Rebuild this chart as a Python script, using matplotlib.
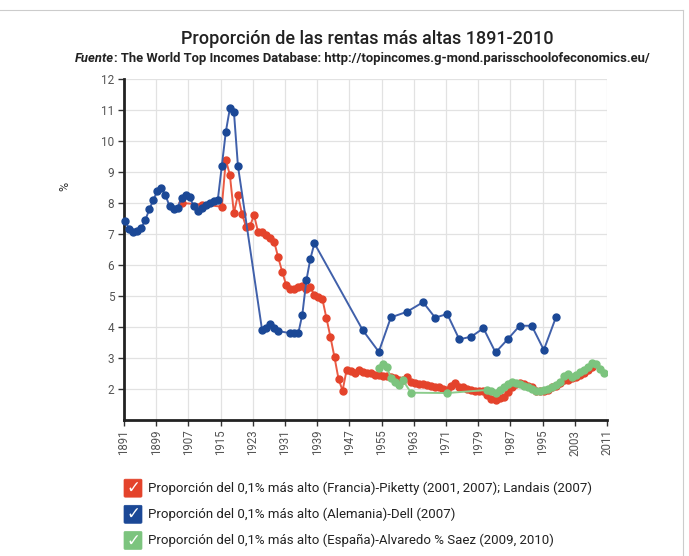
import matplotlib
matplotlib.use("Agg")
import matplotlib.pyplot as plt
from matplotlib.patches import FancyBboxPatch
from matplotlib.lines import Line2D
import numpy as np

plt.rcParams['font.family'] = ['Roboto', 'DejaVu Sans']

# ---------------- data ----------------
# France (Piketty; Landais)
fr_years = [1905, 1910, 1915, 1916, 1917, 1918, 1919, 1920, 1921, 1922, 1923, 1924,
            1925, 1926, 1927, 1928, 1929, 1930, 1931, 1932, 1933, 1934, 1935, 1936,
            1937, 1938, 1939, 1940, 1941, 1942, 1943, 1944, 1945, 1946, 1947, 1948,
            1949, 1950, 1951, 1952, 1953, 1954, 1955, 1956, 1957, 1958, 1959, 1960,
            1961, 1962, 1963, 1964, 1965, 1966, 1967, 1968, 1969, 1970, 1971, 1972,
            1973, 1974, 1975, 1976, 1977, 1978, 1979, 1980, 1981, 1982, 1983, 1984,
            1985, 1986, 1987, 1988, 1989, 1990, 1991, 1992, 1993, 1994, 1995, 1996,
            1997, 1998, 1999, 2000, 2001, 2002, 2003, 2004, 2005, 2006, 2007]
fr_values = [8.00, 7.95, 7.88, 9.39, 8.90, 7.67, 8.26, 7.65, 7.24, 7.25, 7.61, 7.07,
             7.05, 6.97, 6.86, 6.75, 6.25, 5.78, 5.35, 5.22, 5.22, 5.28, 5.32, 5.22,
             5.28, 5.03, 4.96, 4.89, 4.28, 3.67, 3.02, 2.32, 1.95, 2.61, 2.59, 2.51,
             2.62, 2.56, 2.52, 2.50, 2.45, 2.45, 2.43, 2.42, 2.38, 2.35, 2.30, 2.28,
             2.38, 2.22, 2.20, 2.17, 2.17, 2.13, 2.10, 2.05, 2.05, 2.00, 1.97, 2.10,
             2.20, 2.05, 2.05, 2.00, 1.97, 1.95, 1.95, 1.95, 1.80, 1.68, 1.65, 1.70,
             1.75, 1.90, 2.05, 2.15, 2.20, 2.15, 2.10, 2.05, 1.95, 1.92, 1.95, 1.98,
             2.05, 2.10, 2.20, 2.30, 2.30, 2.35, 2.40, 2.45, 2.50, 2.60, 2.70]

# Germany (Dell)
de_years = [1891, 1892, 1893, 1894, 1895, 1896, 1897, 1898, 1899, 1900, 1901, 1902,
            1903, 1904, 1905, 1906, 1907, 1908, 1909, 1910, 1911, 1912, 1913, 1914,
            1915, 1916, 1917, 1918, 1919, 1925, 1926, 1927, 1928, 1929, 1932, 1933,
            1934, 1935, 1936, 1937, 1938, 1950, 1954, 1957, 1961, 1965, 1968, 1971,
            1974, 1977, 1980, 1983, 1986, 1989, 1992, 1995, 1998]
de_values = [7.42, 7.15, 7.05, 7.10, 7.20, 7.45, 7.80, 8.10, 8.40, 8.47, 8.25, 7.90,
             7.80, 7.85, 8.15, 8.25, 8.20, 7.90, 7.75, 7.85, 7.95, 8.00, 8.05, 8.10,
             9.20, 10.30, 11.05, 10.95, 9.20, 3.90, 3.96, 4.10, 3.96, 3.87, 3.80, 3.80,
             3.80, 4.40, 5.50, 6.20, 6.70, 3.90, 3.20, 4.31, 4.49, 4.80, 4.30, 4.42,
             3.60, 3.69, 3.96, 3.18, 3.60, 4.04, 4.04, 3.26, 4.31]

# Spain (Alvaredo & Saez)
es_years = [1954, 1955, 1956, 1957, 1958, 1959, 1960, 1962, 1971, 1981, 1982, 1983,
            1984, 1985, 1986, 1987, 1988, 1989, 1990, 1991, 1992, 1993, 1994, 1995,
            1996, 1997, 1998, 1999, 2000, 2001, 2002, 2003, 2004, 2005, 2006, 2007,
            2008, 2009, 2010]
es_values = [2.67, 2.82, 2.72, 2.35, 2.22, 2.13, 2.28, 1.88, 1.87, 1.97, 1.92, 1.88,
             1.97, 2.07, 2.17, 2.22, 2.20, 2.15, 2.10, 2.05, 2.00, 1.95, 1.95, 1.97,
             2.00, 2.05, 2.12, 2.22, 2.42, 2.47, 2.40, 2.45, 2.55, 2.60, 2.72, 2.83,
             2.82, 2.65, 2.50]

series_labels = [
    "Proporción del 0,1% más alto (Francia)-Piketty (2001, 2007); Landais (2007)",
    "Proporción del 0,1% más alto (Alemania)-Dell (2007)",
    "Proporción del 0,1% más alto (España)-Alvaredo % Saez (2009, 2010)",
]
x_ticks = list(range(1891, 2012, 8))
y_ticks = list(range(2, 13))

title = "Proporción de las rentas más altas 1891-2010"
source = "The World Top Incomes Database: http://topincomes.g-mond.parisschoolofeconomics.eu/"

# ---------------- styling ----------------
red_m, red_l = "#e4432b", "#ea5a44"
blue_m, blue_l = "#1b4896", "#4060aa"
green_m, green_l = "#7cc47e", "#8ccc8c"
mid_year = 0.3  # points sit slightly inside each year

fig = plt.figure(figsize=(6.89, 5.56), dpi=100)
ax = fig.add_axes([0.180, 0.2446, 0.701, 0.6134])

ax.plot(np.array(fr_years) + mid_year, fr_values, color=red_l, lw=1.4, marker="o",
        ms=5.0, mfc=red_m, mec=red_m, zorder=3)
ax.plot(np.array(es_years) + mid_year, es_values, color=green_l, lw=1.4, marker="o",
        ms=5.0, mfc=green_m, mec=green_m, zorder=4)
ax.plot(np.array(de_years) + mid_year, de_values, color=blue_l, lw=1.4, marker="o",
        ms=5.0, mfc=blue_m, mec=blue_m, zorder=5, clip_on=False)

ax.set_xlim(1891, 2011)
ax.set_ylim(1, 12)
ax.set_xticks(x_ticks)
ax.set_xticklabels([str(t) for t in x_ticks], rotation=90, fontsize=8.3, color="#555555")
ax.set_yticks(y_ticks)
ax.set_yticklabels([str(t) for t in y_ticks], fontsize=8.5, color="#555555")
ax.tick_params(axis="both", direction="out", length=4, width=1, color="#333333", pad=3)
ax.grid(True, color="#e2e2e2", lw=0.9)
ax.set_axisbelow(True)
for s in ("top", "right"):
    ax.spines[s].set_visible(False)
for s in ("left", "bottom"):
    ax.spines[s].set_color("#222222")
    ax.spines[s].set_linewidth(2)

fig.text(0.094, 0.665, "%", rotation=90, fontsize=9, color="#333333", ha="center", va="center")

# titles
fig.text(0.533, 0.930, title, ha="center", va="center", fontsize=13, color="#222222",
         fontweight="medium")
t1 = fig.text(0.108, 0.895, "Fuente", ha="left", va="center", fontsize=9.4, color="#222222",
              fontweight="bold", fontstyle="italic")
fig.canvas.draw()
bb = t1.get_window_extent()
x_after = (bb.x1) / fig.bbox.width
fig.text(x_after, 0.895, ": " + source, ha="left", va="center", fontsize=9.4,
         color="#222222", fontweight="bold")

# legend (checkbox style)
leg_colors = [red_m, blue_m, green_m]
leg_y = [0.122, 0.075, 0.028]
for c, y, lab in zip(leg_colors, leg_y, series_labels):
    w, h = 18 / 689, 18 / 556
    fig.patches.append(FancyBboxPatch((124 / 689, y - h / 2), w, h,
                                      boxstyle="round,pad=0,rounding_size=0.002",
                                      transform=fig.transFigure, fc=c, ec=c, lw=0.5))
    fig.text(124 / 689 + w / 2, y, "\u2713", color="white", fontsize=12, ha="center",
             va="center", family=["DejaVu Sans"])
    fig.text(148 / 689, y, lab, fontsize=9.5, color="#222222", ha="left", va="center")

# thin frame
fig.add_artist(Line2D([0, 683 / 689], [1 - 10 / 556, 1 - 10 / 556], transform=fig.transFigure,
                      color="#cccccc", lw=0.8))
fig.add_artist(Line2D([683 / 689, 683 / 689], [0, 1 - 10 / 556], transform=fig.transFigure,
                      color="#cccccc", lw=0.8))

fig.savefig("out.png", dpi=100)
